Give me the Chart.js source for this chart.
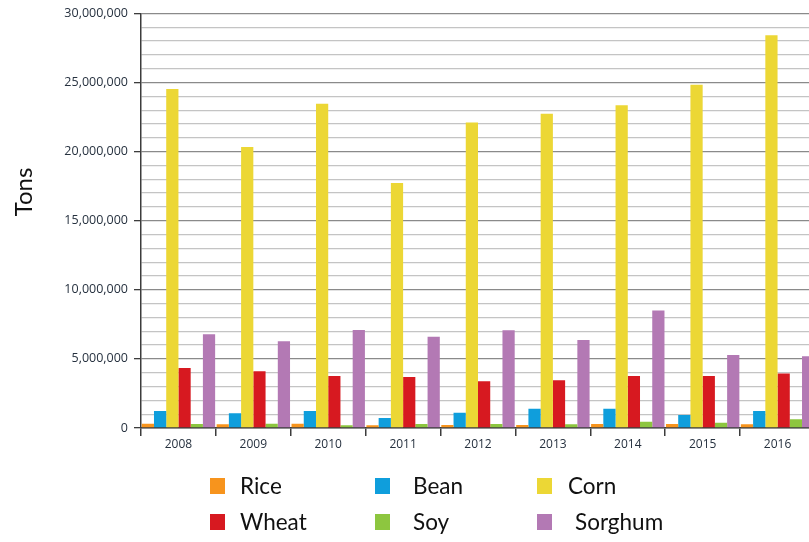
<!DOCTYPE html>
<html>
<head>
<meta charset="utf-8">
<script src="https://cdn.jsdelivr.net/npm/chart.js@4.4.1/dist/chart.umd.min.js"></script>
<style>
  html, body { margin: 0; padding: 0; background: #fff; overflow: hidden; }
  #wrap { position: relative; width: 809px; height: 542px; overflow: hidden; }
  canvas { display: block; }
</style>
</head>
<body>
<div id="wrap"><canvas id="crops" width="815" height="542"></canvas></div>
<script>
const years = ['2008', '2009', '2010', '2011', '2012', '2013', '2014', '2015', '2016'];
const seriesNames = ['Rice', 'Bean', 'Corn', 'Wheat', 'Soy', 'Sorghum'];
const seriesColors = ['#f7941d', '#0f9edc', '#ecd735', '#d71920', '#8dc63f', '#b379b4'];

// tons per year
const rice    = [300000, 280000, 300000, 190000, 220000, 220000, 290000, 290000, 280000];
const bean    = [1230000, 1060000, 1230000, 720000, 1100000, 1390000, 1390000, 940000, 1230000];
const corn    = [24540000, 20330000, 23460000, 17740000, 22110000, 22750000, 23360000, 24850000, 28430000];
const wheat   = [4350000, 4110000, 3770000, 3700000, 3390000, 3460000, 3770000, 3770000, 3940000];
const soy     = [290000, 300000, 190000, 290000, 290000, 270000, 450000, 380000, 630000];
const sorghum = [6780000, 6270000, 7090000, 6610000, 7070000, 6370000, 8510000, 5290000, 5190000];

const yMax = 30000000;
const yStep = 1000000;
const yMajor = 5000000;

// legend drawn as a 3 x 2 grid under the axis, plus the rotated y title
const legendGrid = {
  id: 'legendGrid',
  afterDraw(chart) {
    const ctx = chart.ctx;
    const boxX = [210, 375, 537];
    const textX = [240, 413, 568];
    const rowY = [486, 522];
    ctx.save();
    ctx.font = '22.5px Lato';
    ctx.textBaseline = 'middle';
    chart.data.datasets.forEach((ds, i) => {
      const c = i % 3, r = Math.floor(i / 3);
      ctx.fillStyle = ds.backgroundColor;
      ctx.fillRect(boxX[c], rowY[r] - 8, 15, 16);
      ctx.fillStyle = '#111';
      ctx.fillText(ds.label, textX[c] + (i === 5 ? 7 : 0), rowY[r] + 1);
    });
    ctx.translate(24, 192);
    ctx.rotate(-Math.PI / 2);
    ctx.textAlign = 'center';
    ctx.fillStyle = '#111';
    ctx.font = '24px Lato';
    ctx.fillText('Tons', 0, 0);
    ctx.restore();
  }
};

const allData = [rice, bean, corn, wheat, soy, sorghum];

new Chart(document.getElementById('crops'), {
  type: 'bar',
  data: {
    labels: years,
    datasets: seriesNames.map((name, i) => ({
      label: name,
      data: allData[i],
      backgroundColor: seriesColors[i],
      borderWidth: 0,
      categoryPercentage: 0.98,
      barPercentage: 1.0,
    }))
  },
  options: {
    responsive: false,
    animation: false,
    layout: { padding: { top: 12, right: 0, left: 0, bottom: 0 } },
    plugins: { legend: { display: false }, tooltip: { enabled: false } },
    scales: {
      x: {
        afterFit: s => { s.height = 114; },
        grid: { drawOnChartArea: false, drawTicks: true, tickLength: 8, color: '#3c3c3c', lineWidth: 1.5 },
        border: { color: '#3c3c3c', width: 1.5 },
        ticks: { font: { family: 'Open Sans', size: 12 }, color: '#26313f', padding: 1 }
      },
      y: {
        min: 0,
        max: yMax,
        afterFit: s => { s.width = 141; },
        grid: {
          color: c => (c.tick.value % yMajor === 0 ? '#8a8a8a' : '#c4c4c4'),
          tickColor: c => (c.tick.value % yMajor === 0 ? '#3c3c3c' : 'rgba(0,0,0,0)'),
          lineWidth: 1.3,
          tickLength: 7
        },
        border: { color: '#3c3c3c', width: 1.5 },
        ticks: {
          stepSize: yStep,
          autoSkip: false,
          padding: 6,
          color: '#26313f',
          font: { family: 'Open Sans', size: 12.5 },
          callback: v => (v % yMajor === 0 ? v.toLocaleString('en-US') : '')
        }
      }
    }
  },
  plugins: [legendGrid]
});
</script>
</body>
</html>
